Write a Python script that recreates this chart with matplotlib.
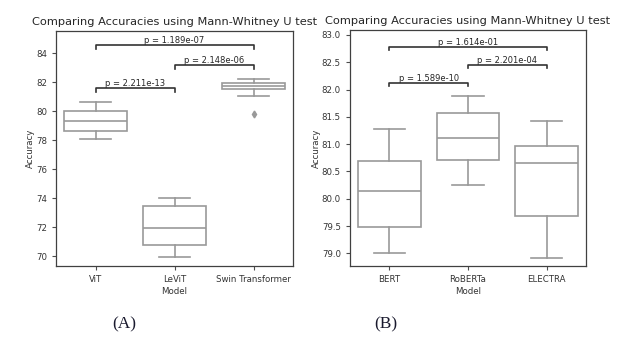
import matplotlib.pyplot as plt

# panel A: vision models
models_a = ["ViT", "LeViT", "Swin Transformer"]
whislo_a = [78.06, 69.93, 81.05]
q1_a = [78.66, 70.74, 81.53]
med_a = [79.35, 71.96, 81.74]
q3_a = [80.04, 73.48, 81.97]
whishi_a = [80.62, 74.03, 82.23]
fliers_a = [[], [], [79.81]]
pairs_a = [(0, 1), (1, 2), (0, 2)]
pvals_a = ["2.211e-13", "2.148e-06", "1.189e-07"]

# panel B: language models
models_b = ["BERT", "RoBERTa", "ELECTRA"]
whislo_b = [79.01, 80.25, 78.91]
q1_b = [79.48, 80.71, 79.69]
med_b = [80.15, 81.12, 80.66]
q3_b = [80.70, 81.57, 80.97]
whishi_b = [81.27, 81.89, 81.42]
fliers_b = [[], [], []]
pairs_b = [(0, 1), (1, 2), (0, 2)]
pvals_b = ["1.589e-10", "2.201e-04", "1.614e-01"]

GRAY = "#999999"
FS = 6.2


def draw_panel(ax, models, whislo, q1, med, q3, whishi, fliers, pairs, pvals, ylim, yticks):
    stats = []
    for i in range(len(models)):
        stats.append(dict(whislo=whislo[i], q1=q1[i], med=med[i], q3=q3[i],
                          whishi=whishi[i], fliers=fliers[i]))
    ax.bxp(stats, positions=range(len(models)), widths=0.8, capwidths=0.4,
           patch_artist=True,
           boxprops=dict(facecolor="white", edgecolor=GRAY, linewidth=1.2),
           medianprops=dict(color=GRAY, linewidth=1.2),
           whiskerprops=dict(color=GRAY, linewidth=1.2),
           capprops=dict(color=GRAY, linewidth=1.2),
           flierprops=dict(marker="d", markerfacecolor=GRAY, markeredgecolor=GRAY,
                           markersize=3.5))

    # significance brackets stacked above the boxes
    rng = max(whishi) - min(whislo)
    gap = 0.08 * rng
    step = 0.11 * rng
    tip = 0.023 * rng
    levels = []
    for (a, b), p in zip(pairs, pvals):
        y = max(whishi[a:b + 1]) + gap
        for (la, lb), ly in levels:
            if not (lb < a or la > b):
                y = max(y, ly + step)
        levels.append(((a, b), y))
        ax.plot([a, a, b, b], [y - tip, y, y, y - tip], color="0.2", lw=1.2)
        ax.text((a + b) / 2, y, "p = " + p, ha="center", va="bottom",
                fontsize=6.0, color="0.15")

    ax.set_xlim(-0.5, len(models) - 0.5)
    ax.set_ylim(*ylim)
    ax.set_yticks(yticks)
    ax.set_xticks(range(len(models)))
    ax.set_xticklabels(models, fontsize=FS, color="0.2")
    ax.tick_params(axis="y", labelsize=FS, labelcolor="0.2", length=3, color="0.3")
    ax.tick_params(axis="x", length=3, color="0.3")
    ax.set_xlabel("Model", fontsize=FS, color="0.2", labelpad=2)
    ax.set_ylabel("Accuracy", fontsize=FS, color="0.2", labelpad=1)
    ax.set_title("Comparing Accuracies using Mann-Whitney U test", fontsize=8.2,
                 color="0.15", pad=4)
    for s in ax.spines.values():
        s.set_color("0.25")
        s.set_linewidth(0.9)


fig = plt.figure(figsize=(6.37, 3.59), dpi=100)
ax1 = fig.add_axes([56 / 637, 93 / 359, 237 / 637, 235 / 359])
ax2 = fig.add_axes([350 / 637, 93 / 359, 236 / 637, 236 / 359])

draw_panel(ax1, models_a, whislo_a, q1_a, med_a, q3_a, whishi_a, fliers_a,
           pairs_a, pvals_a, (69.31, 85.54), [70, 72, 74, 76, 78, 80, 82, 84])
draw_panel(ax2, models_b, whislo_b, q1_b, med_b, q3_b, whishi_b, fliers_b,
           pairs_b, pvals_b, (78.77, 83.09), [79.0, 79.5, 80.0, 80.5, 81.0, 81.5, 82.0, 82.5, 83.0])
ax2.yaxis.set_major_formatter(plt.FormatStrFormatter("%.1f"))

fig.text(124 / 637, 1 - 324 / 359, "(A)", ha="center", va="center",
         fontsize=12.5, family="Liberation Serif", color="#1a1a2e")
fig.text(386 / 637, 1 - 324 / 359, "(B)", ha="center", va="center",
         fontsize=12.5, family="Liberation Serif", color="#1a1a2e")

fig.savefig("out.png", dpi=100)
